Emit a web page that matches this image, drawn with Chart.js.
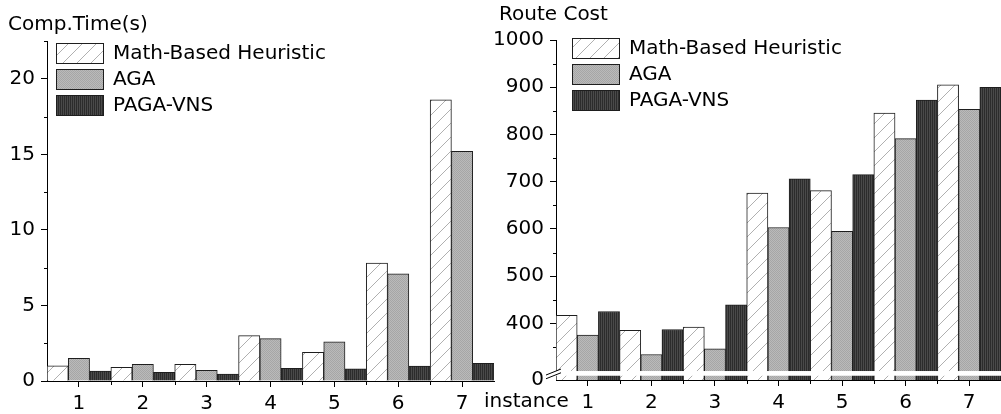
<!DOCTYPE html>
<html>
<head>
<meta charset="utf-8">
<script src="https://cdn.jsdelivr.net/npm/chart.js@4"></script>
<style>
  body { margin: 0; background: #fff; width: 1001px; height: 414px; overflow: hidden; position: relative; }
  canvas { position: absolute; top: 0; }
  #timeChart { left: 0; }
  #costChart { left: 480px; }
</style>
</head>
<body>
<canvas id="timeChart" width="500" height="414" style="width:500px;height:414px"></canvas>
<canvas id="costChart" width="521" height="414" style="width:521px;height:414px"></canvas>
<script>
const instances = ['1', '2', '3', '4', '5', '6', '7'];
const seriesNames = ['Math-Based Heuristic', 'AGA', 'PAGA-VNS'];

const timeMath = [1.0, 0.9, 1.1, 3.0, 1.9, 7.8, 18.6];
const timeAGA = [1.5, 1.1, 0.7, 2.8, 2.6, 7.1, 15.2];
const timePAGA = [0.66, 0.57, 0.46, 0.84, 0.8, 0.99, 1.17];
const timeTicks = [0, 5, 10, 15, 20];
const timeMinor = [2.5, 7.5, 12.5, 17.5, 22.5];

const costMath = [417, 385, 392, 676, 681, 845, 905];
const costAGA = [375, 334, 346, 603, 595, 791, 853];
const costPAGA = [425, 387, 439, 706, 715, 873, 900];
const costTicks = [400, 500, 600, 700, 800, 900, 1000];
const costMinor = [350, 450, 550, 650, 750, 850, 950];
const costBreakBase = 280; // shown as "0" below the axis break

const FONT = '"DejaVu Sans", sans-serif';

function makePattern(kind) {
    const c = document.createElement('canvas');
    const g = c.getContext('2d');
    if (kind === 'hatch') {
        c.width = 14; c.height = 14;
        g.fillStyle = '#fff';
        g.fillRect(0, 0, 14, 14);
        g.strokeStyle = '#b0b0b0';
        g.lineWidth = 1;
        g.beginPath();
        g.moveTo(-1, 15); g.lineTo(15, -1);
        g.moveTo(-8, 8); g.lineTo(8, -8);
        g.moveTo(6, 22); g.lineTo(22, 6);
        g.stroke();
    } else if (kind === 'dots') {
        c.width = 2; c.height = 2;
        g.fillStyle = '#bababa';
        g.fillRect(0, 0, 2, 2);
        g.fillStyle = '#a6a6a6';
        g.fillRect(0, 0, 1, 1);
        g.fillRect(1, 1, 1, 1);
    } else {
        c.width = 2; c.height = 2;
        g.fillStyle = '#4a4a4a';
        g.fillRect(0, 0, 2, 2);
        g.fillStyle = '#2c2c2c';
        g.fillRect(0, 0, 1, 2);
    }
    return g.createPattern(c, 'repeat');
}

const fills = [makePattern('hatch'), makePattern('dots'), makePattern('lines')];

function makeDatasets(values) {
    return values.map((v, i) => ({
        label: seriesNames[i],
        data: v,
        backgroundColor: fills[i],
        borderColor: '#1e1e1e',
        borderWidth: 1,
        categoryPercentage: 1.0,
        barPercentage: 1.0
    }));
}

// legend, titles, minor ticks
function decorPlugin(cfg) {
    return {
        id: 'decor',
        afterDraw(chart) {
            const ctx = chart.ctx;
            const x = chart.scales.x, y = chart.scales.y;
            ctx.save();
            ctx.strokeStyle = '#000';
            ctx.lineWidth = 1;
            ctx.beginPath();
            cfg.minor.forEach(v => {
                const py = Math.round(y.getPixelForValue(v)) + 0.5;
                ctx.moveTo(y.right - 3, py);
                ctx.lineTo(y.right, py);
            });
            const step = (x.right - x.left) / instances.length;
            for (let i = 1; i < instances.length; i++) {
                const px = Math.round(x.left + i * step) + 0.5;
                ctx.moveTo(px, x.top);
                ctx.lineTo(px, x.top + 4);
            }
            ctx.stroke();

            if (cfg.axisBreak) {
                const b1 = y.getPixelForValue(299);
                const b2 = y.getPixelForValue(289);
                ctx.fillStyle = '#fff';
                ctx.fillRect(y.right - 1, b1, x.right - y.right + 2, b2 - b1);
                ctx.beginPath();
                ctx.moveTo(y.right - 10, b1 + 4); ctx.lineTo(y.right + 5, b1 - 2);
                ctx.moveTo(y.right - 10, b2 + 3); ctx.lineTo(y.right + 5, b2 - 3);
                ctx.stroke();
            }

            ctx.fillStyle = '#000';
            ctx.font = '20px ' + FONT;
            ctx.textBaseline = 'middle';
            ctx.textAlign = 'left';
            ctx.fillText(cfg.title, cfg.titleX, cfg.titleY);
            if (cfg.xTitle) ctx.fillText(cfg.xTitle, cfg.xTitleX, cfg.xTitleY);

            chart.data.datasets.forEach((ds, i) => {
                const by = cfg.legendY + i * 26;
                ctx.fillStyle = ds.backgroundColor;
                ctx.fillRect(cfg.legendX, by, 48, 21);
                ctx.strokeStyle = '#1e1e1e';
                ctx.strokeRect(cfg.legendX + 0.5, by + 0.5, 47, 20);
                ctx.fillStyle = '#000';
                ctx.fillText(ds.label, cfg.legendX + 57, by + 11);
            });
            ctx.restore();
        }
    };
}

function baseOptions(yWidth, xHeight, padTop, padRight) {
    return {
        responsive: false,
        animation: false,
        devicePixelRatio: 1,
        layout: { padding: { top: padTop, right: padRight, left: 0, bottom: 0 } },
        plugins: { legend: { display: false }, tooltip: { enabled: false } },
        scales: {
            x: {
                afterFit(s) { s.height = xHeight; },
                grid: { drawOnChartArea: false, offset: false, tickLength: 6, color: '#000' },
                border: { color: '#000', width: 1 },
                ticks: { color: '#000', font: { family: FONT, size: 20 }, padding: 5, maxRotation: 0 }
            },
            y: {
                afterFit(s) { s.width = yWidth; },
                grid: { drawOnChartArea: false, tickLength: 6, color: '#000' },
                border: { color: '#000', width: 1 },
                ticks: { color: '#000', font: { family: FONT, size: 20 }, padding: 6 }
            }
        }
    };
}

const timeOpts = baseOptions(47, 33, 41, 6);
timeOpts.scales.y.min = 0;
timeOpts.scales.y.max = 22.5;
timeOpts.scales.y.afterBuildTicks = s => { s.ticks = timeTicks.map(v => ({ value: v })); };

new Chart(document.getElementById('timeChart'), {
    type: 'bar',
    data: { labels: instances, datasets: makeDatasets([timeMath, timeAGA, timePAGA]) },
    options: timeOpts,
    plugins: [decorPlugin({
        minor: timeMinor, title: 'Comp.Time(s)', titleX: 8, titleY: 25,
        legendX: 56, legendY: 43
    })]
});

const costOpts = baseOptions(76, 34, 40, 0);
costOpts.scales.y.min = costBreakBase;
costOpts.scales.y.max = 1000;
costOpts.scales.y.afterBuildTicks = s => {
    s.ticks = [costBreakBase].concat(costTicks).map(v => ({ value: v }));
};
costOpts.scales.y.ticks.callback = v => (v === costBreakBase ? '0' : String(v));
costOpts.scales.y.grid.tickColor = c => (c.tick && c.tick.value === costBreakBase ? 'rgba(0,0,0,0)' : '#000');

new Chart(document.getElementById('costChart'), {
    type: 'bar',
    data: { labels: instances, datasets: makeDatasets([costMath, costAGA, costPAGA]) },
    options: costOpts,
    plugins: [decorPlugin({
        minor: costMinor, title: 'Route Cost', titleX: 19, titleY: 15,
        xTitle: 'instance', xTitleX: 4, xTitleY: 402,
        legendX: 92, legendY: 38, axisBreak: true
    })]
});
</script>
</body>
</html>
